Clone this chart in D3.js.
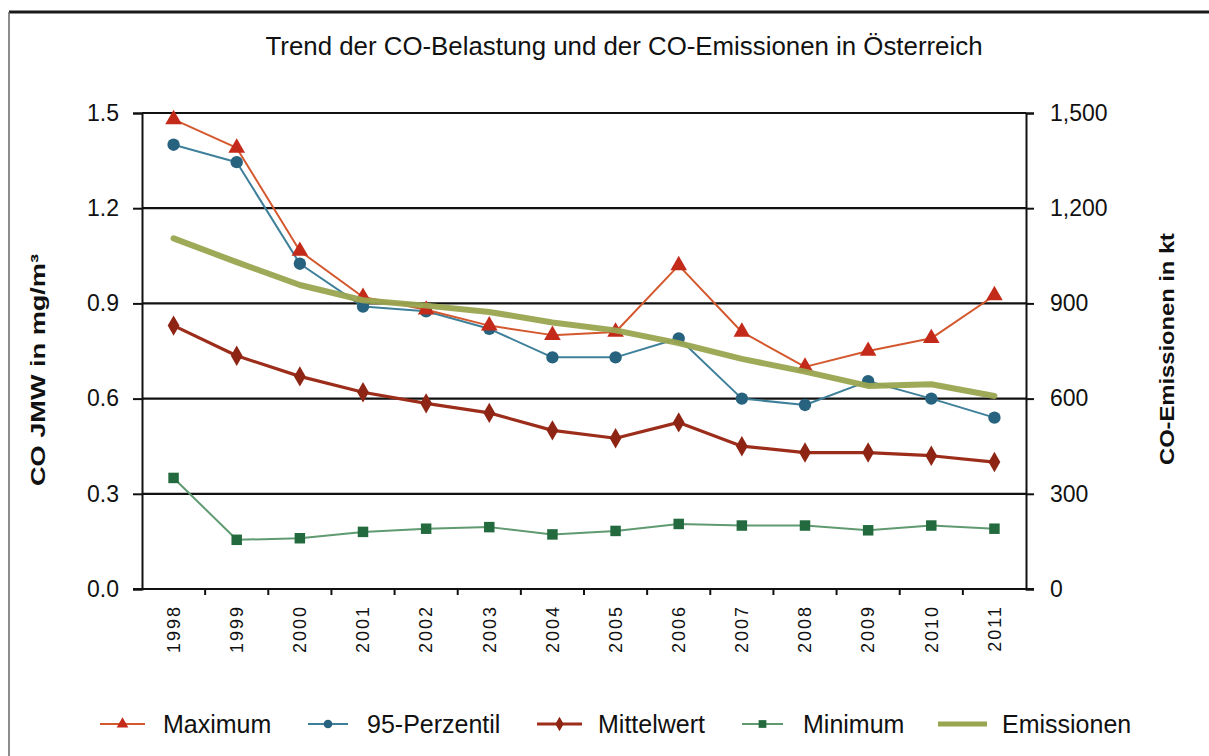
<!DOCTYPE html>
<html>
<head>
<meta charset="utf-8">
<script src="https://cdn.jsdelivr.net/npm/d3@7"></script>
<style>
  html, body { margin: 0; padding: 0; background: #ffffff; }
  svg { display: block; }
  text { font-family: "Liberation Sans", Arial, Helvetica, sans-serif; fill: #111; }
</style>
</head>
<body>
<svg id="chart" width="1209" height="756"></svg>
<script>
// ---- data ----
const years = ["1998","1999","2000","2001","2002","2003","2004","2005","2006","2007","2008","2009","2010","2011"];
const maximum    = [1.48, 1.39, 1.065, 0.92, 0.88, 0.83, 0.80, 0.81, 1.02, 0.81, 0.70, 0.75, 0.79, 0.925];
const perzentil95= [1.40, 1.345, 1.025, 0.89, 0.875, 0.82, 0.73, 0.73, 0.79, 0.60, 0.58, 0.655, 0.60, 0.54];
const mittelwert = [0.83, 0.735, 0.67, 0.62, 0.585, 0.555, 0.50, 0.475, 0.525, 0.45, 0.43, 0.43, 0.42, 0.40];
const minimum    = [0.35, 0.155, 0.16, 0.18, 0.19, 0.195, 0.172, 0.183, 0.205, 0.20, 0.20, 0.185, 0.20, 0.19];
const emissionen = [1105, 1030, 958, 910, 893, 873, 840, 815, 775, 725, 685, 640, 645, 608];
const leftTicks  = [0, 0.3, 0.6, 0.9, 1.2, 1.5];
const rightTicks = [0, 300, 600, 900, 1200, 1500];
const seriesNames = ["Maximum", "95-Perzentil", "Mittelwert", "Minimum", "Emissionen"];
const titleText = "Trend der CO-Belastung und der CO-Emissionen in Österreich";
const leftTitle = "CO JMW in mg/m³";
const rightTitle = "CO-Emissionen in kt";

// ---- layout ----
const svg = d3.select("#chart");
const X0 = 142, X1 = 1026, Y0 = 589, Y1 = 113;

const x = d3.scaleBand().domain(years).range([X0, X1]);
const cx = d => x(d) + x.bandwidth() / 2;
const y = d3.scaleLinear().domain([0, 1.5]).range([Y0, Y1]);
const y2 = d3.scaleLinear().domain([0, 1500]).range([Y0, Y1]);

// frame lines (page border)
svg.append("line").attr("x1", 9).attr("x2", 1209).attr("y1", 12).attr("y2", 12)
  .attr("stroke", "#1a1a1a").attr("stroke-width", 3);
svg.append("line").attr("x1", 9).attr("x2", 9).attr("y1", 12).attr("y2", 756)
  .attr("stroke", "#666").attr("stroke-width", 1.5);

// title
svg.append("text")
  .attr("x", 624).attr("y", 55)
  .attr("text-anchor", "middle")
  .attr("font-size", 25)
  .attr("textLength", 717).attr("lengthAdjust", "spacingAndGlyphs")
  .text(titleText);

// gridlines
svg.append("g").selectAll("line")
  .data(leftTicks.filter(t => t > 0))
  .join("line")
  .attr("x1", X0).attr("x2", X1)
  .attr("y1", d => y(d)).attr("y2", d => y(d))
  .attr("stroke", "#111").attr("stroke-width", 2.2);

// left axis
const gl = svg.append("g").attr("transform", `translate(${X0},0)`)
  .call(d3.axisLeft(y).tickValues(leftTicks).tickFormat(d3.format(".1f")).tickSize(9).tickPadding(14));
gl.select(".domain").attr("stroke", "#111").attr("stroke-width", 2);
gl.selectAll(".tick line").attr("stroke", "#111").attr("stroke-width", 2);
gl.selectAll(".tick text").attr("font-size", 23).attr("font-family", "Liberation Sans, Arial, sans-serif").attr("fill", "#111");

// right axis
const gr = svg.append("g").attr("transform", `translate(${X1},0)`)
  .call(d3.axisRight(y2).tickValues(rightTicks).tickFormat(d3.format(",")).tickSize(8).tickPadding(16));
gr.select(".domain").attr("stroke", "#111").attr("stroke-width", 2);
gr.selectAll(".tick line").attr("stroke", "#111").attr("stroke-width", 2);
gr.selectAll(".tick text").attr("font-size", 23).attr("font-family", "Liberation Sans, Arial, sans-serif").attr("fill", "#111");

// bottom axis: baseline + ticks between categories
svg.append("line").attr("x1", X0 - 9).attr("x2", X1 + 8).attr("y1", Y0).attr("y2", Y0)
  .attr("stroke", "#111").attr("stroke-width", 2.2);
svg.append("g").selectAll("line")
  .data(years.slice(1))
  .join("line")
  .attr("x1", d => x(d)).attr("x2", d => x(d))
  .attr("y1", Y0).attr("y2", Y0 + 6)
  .attr("stroke", "#111").attr("stroke-width", 2);

// x labels (rotated)
svg.append("g").selectAll("text")
  .data(years)
  .join("text")
  .attr("transform", d => `translate(${cx(d)},605) rotate(-90)`)
  .attr("text-anchor", "end")
  .attr("dy", "0.35em")
  .attr("font-size", 18)
  .attr("letter-spacing", 2)
  .text(d => d);

// axis titles
svg.append("text")
  .attr("transform", "translate(38,370) rotate(-90)")
  .attr("text-anchor", "middle").attr("dy", "0.35em")
  .attr("font-size", 21).attr("font-weight", "bold")
  .attr("textLength", 232).attr("lengthAdjust", "spacingAndGlyphs")
  .text(leftTitle);
svg.append("text")
  .attr("transform", "translate(1167,349) rotate(-90)")
  .attr("text-anchor", "middle").attr("dy", "0.35em")
  .attr("font-size", 21).attr("font-weight", "bold")
  .attr("textLength", 232).attr("lengthAdjust", "spacingAndGlyphs")
  .text(rightTitle);

// ---- series ----
const lineL = d3.line().x((d, i) => cx(years[i])).y(d => y(d));
const lineR = d3.line().x((d, i) => cx(years[i])).y(d => y2(d));

const styles = {
  "Maximum":      { line: "#d4582e", width: 2,   marker: "#c42a1a", sym: d3.symbolTriangle, size: 120 },
  "95-Perzentil": { line: "#3e7f9a", width: 2,   marker: "#27627f", sym: d3.symbolCircle,   size: 120 },
  "Mittelwert":   { line: "#9c2d1a", width: 3.2, marker: "#8e2414", sym: d3.symbolDiamond,  size: 120 },
  "Minimum":      { line: "#5f9a70", width: 2,   marker: "#236b3e", sym: d3.symbolSquare,   size: 110 },
  "Emissionen":   { line: "#9aa550", width: 6 }
};

function drawSeries(name, vals, scaleLine) {
  const st = styles[name];
  const g = svg.append("g");
  g.append("path").attr("d", scaleLine(vals)).attr("fill", "none")
    .attr("stroke", st.line).attr("stroke-width", st.width).attr("stroke-linejoin", "round");
  g.selectAll("path.m").data(vals).join("path").attr("class", "m")
    .attr("transform", (d, i) => `translate(${cx(years[i])},${y(d)})`)
    .attr("d", d3.symbol().type(st.sym).size(st.size))
    .attr("fill", st.marker);
}

drawSeries("Minimum", minimum, lineL);
drawSeries("Mittelwert", mittelwert, lineL);
drawSeries("95-Perzentil", perzentil95, lineL);
drawSeries("Maximum", maximum, lineL);
svg.append("path").attr("d", lineR(emissionen)).attr("fill", "none")
  .attr("stroke", styles["Emissionen"].line).attr("stroke-width", styles["Emissionen"].width)
  .attr("stroke-linejoin", "round").attr("stroke-linecap", "round").attr("opacity", 0.95);

// ---- legend ----
const legendPos = [[100, 145, 163], [308, 348, 367], [537, 582, 598], [742, 783, 803], [938, 987, 1002]];
const LY = 724;
const lg = svg.append("g");
seriesNames.forEach((name, i) => {
  const st = styles[name];
  const [a, b, t] = legendPos[i];
  lg.append("line").attr("x1", a).attr("x2", b).attr("y1", LY).attr("y2", LY)
    .attr("stroke", st.line).attr("stroke-width", name === "Emissionen" ? 5 : (name === "Mittelwert" ? 3.2 : 2));
  if (st.sym) {
    lg.append("path").attr("transform", `translate(${(a + b) / 2},${LY})`)
      .attr("d", d3.symbol().type(st.sym).size(60)).attr("fill", st.marker);
  }
  lg.append("text").attr("x", t).attr("y", LY).attr("dy", "0.35em")
    .attr("font-size", 25).text(name);
});
</script>
</body>
</html>
